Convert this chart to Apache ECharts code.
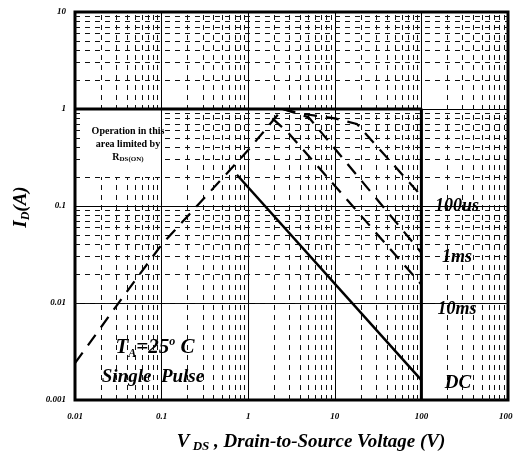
<!DOCTYPE html>
<html><head><meta charset="utf-8">
<script src="https://cdn.jsdelivr.net/npm/echarts@6/dist/echarts.min.js"></script>
<style>html,body{margin:0;padding:0;background:#fff}#c{width:513px;height:459px}</style>
</head><body><div id="c"></div>
<script>
// ---- data ----
const xTickLabels = ['0.01', '0.1', '1', '10', '100', '1000'];
const yTickLabels = ['0.001', '0.01', '0.1', '1', '10'];
const minorMultipliers = [2, 3, 4, 5, 6, 7, 8, 9];
const xDecades = [0.01, 0.1, 1, 10, 100];
const yDecades = [0.001, 0.01, 0.1, 1];

// RDS(on) limit (dashed)
const rdsV = [0.01, 0.03, 0.1, 1, 2.5];
const rdsI = [0.0024, 0.0093, 0.04, 0.377, 1.0];
// DC (solid)
const dcV = [0.74, 100];
const dcI = [0.21, 0.0016];
// 100us (dashed)
const us100V = [2.5, 4, 10, 18, 100];
const us100I = [1.0, 0.9, 0.8, 0.7, 0.127];
// 1ms (dashed)
const ms1V = [2.5, 5, 100];
const ms1I = [1.0, 0.82, 0.033];
// 10ms (dashed)
const ms10V = [1.9, 2.9, 100];
const ms10I = [0.8, 0.57, 0.0155];
// current / voltage limit (thick solid)
const limitV = [0.01, 100, 100];
const limitI = [1, 1, 0.001];

// ---- build ----
function pairs(xs, ys) { return xs.map((x, i) => [x, ys[i]]); }
function minorValues(decades) {
  const out = [];
  decades.forEach(d => minorMultipliers.forEach(m => out.push(Number((d * m).toPrecision(3)))));
  return out;
}
const xMinor = minorValues(xDecades);
const yMinor = minorValues(yDecades);

const SERIF = '"Liberation Serif", "Times New Roman", serif';
const gridDash = [5, 5];

function tickFormatter(labels, minExp) {
  return function (v) {
    const e = Math.round(Math.log10(v));
    return labels[e - minExp] || '';
  };
}

const chart = echarts.init(document.getElementById('c'), null, { renderer: 'canvas' });

const dashStyle = { color: '#000', width: 2.2, type: [13, 9] };
const center = { align: 'center', verticalAlign: 'middle', textAlign: 'center', textVerticalAlign: 'middle' };

chart.setOption({
  animation: false,
  backgroundColor: '#fff',
  grid: {
    left: 75, right: 5, top: 12, bottom: 59, outerBoundsMode: 'none', containLabel: false,
    show: true, borderColor: '#000', borderWidth: 3, backgroundColor: 'transparent'
  },
  xAxis: {
    type: 'log', logBase: 10, min: 0.01, max: 1000,
    axisLine: { show: false },
    axisTick: { show: false },
    splitLine: { show: true, lineStyle: { color: '#000', width: 1 } },
    axisLabel: {
      margin: 12, fontSize: 9, fontWeight: 'bold', fontStyle: 'italic', fontFamily: SERIF, color: '#000',
      formatter: tickFormatter(xTickLabels, -2), showMinLabel: true, showMaxLabel: true
    }
  },
  yAxis: {
    type: 'log', logBase: 10, min: 0.001, max: 10,
    axisLine: { show: false },
    axisTick: { show: false },
    splitLine: { show: true, lineStyle: { color: '#000', width: 1 } },
    axisLabel: {
      margin: 9, fontSize: 9, fontWeight: 'bold', fontStyle: 'italic', fontFamily: SERIF, color: '#000',
      formatter: tickFormatter(yTickLabels, -3), showMinLabel: true, showMaxLabel: true
    }
  },
  series: [
    {
      name: 'minorGrid', type: 'line', z: 1, data: [], silent: true,
      markLine: {
        z: 1, silent: true, symbol: 'none', animation: false,
        label: { show: false },
        lineStyle: { color: '#111', width: 1, type: gridDash },
        data: xMinor.map(v => ({ xAxis: v })).concat(yMinor.map(v => ({ yAxis: v })))
      }
    },
    { name: 'limit', type: 'line', z: 3, data: pairs(limitV, limitI), symbol: 'none', lineStyle: { color: '#000', width: 3 } },
    { name: 'RDS(on)', type: 'line', z: 3, data: pairs(rdsV, rdsI), symbol: 'none', lineStyle: dashStyle },
    { name: 'DC', type: 'line', z: 3, data: pairs(dcV, dcI), symbol: 'none', lineStyle: { color: '#000', width: 2.5 } },
    { name: '100us', type: 'line', z: 3, data: pairs(us100V, us100I), symbol: 'none', lineStyle: dashStyle },
    { name: '1ms', type: 'line', z: 3, data: pairs(ms1V, ms1I), symbol: 'none', lineStyle: dashStyle },
    { name: '10ms', type: 'line', z: 3, data: pairs(ms10V, ms10I), symbol: 'none', lineStyle: dashStyle }
  ],
  graphic: [
    { type: 'rect', z: 2, shape: { x: 81, y: 112, width: 79, height: 65 }, style: { fill: '#fff' } },
    { type: 'text', z: 5, x: 128, y: 131, style: Object.assign({ text: 'Operation in this', font: 'bold 10px ' + SERIF, fill: '#000' }, center) },
    { type: 'text', z: 5, x: 128, y: 144, style: Object.assign({ text: 'area limited by', font: 'bold 10px ' + SERIF, fill: '#000' }, center) },
    {
      type: 'text', z: 5, x: 128, y: 157,
      style: Object.assign({
        text: '{m|R}{s|DS(ON)}',
        rich: {
          m: { font: 'bold 10px ' + SERIF, fill: '#000', lineHeight: 12, verticalAlign: 'middle' },
          s: { font: 'bold 7px ' + SERIF, fill: '#000', lineHeight: 7, verticalAlign: 'bottom' }
        }
      }, center)
    },
    {
      type: 'text', z: 5, x: 155, y: 348,
      style: Object.assign({
        text: '{m|T}{s|A}{m|=25}{p|o}{m| C}',
        rich: {
          m: { font: 'italic bold 21px ' + SERIF, fill: '#000', lineHeight: 24, verticalAlign: 'middle' },
          s: { font: 'italic bold 12px ' + SERIF, fill: '#000', lineHeight: 12, verticalAlign: 'bottom' },
          p: { font: 'italic bold 12px ' + SERIF, fill: '#000', lineHeight: 12, verticalAlign: 'top' }
        }
      }, center)
    },
    { type: 'text', z: 5, x: 153, y: 377, style: Object.assign({ text: 'Single  Pulse', font: 'italic bold 19px ' + SERIF, fill: '#000' }, center) },
    { type: 'text', z: 5, x: 457, y: 206, style: Object.assign({ text: '100us', font: 'italic bold 18px ' + SERIF, fill: '#000' }, center) },
    { type: 'text', z: 5, x: 457, y: 257, style: Object.assign({ text: '1ms', font: 'italic bold 18px ' + SERIF, fill: '#000' }, center) },
    { type: 'text', z: 5, x: 457, y: 309, style: Object.assign({ text: '10ms', font: 'italic bold 18px ' + SERIF, fill: '#000' }, center) },
    { type: 'text', z: 5, x: 458, y: 383, style: Object.assign({ text: 'DC', font: 'italic bold 19px ' + SERIF, fill: '#000' }, center) },
    {
      type: 'text', z: 5, x: 311, y: 442,
      style: Object.assign({
        text: '{m|V}{s| DS}{m| , Drain-to-Source Voltage (V)}',
        rich: {
          m: { font: 'italic bold 19px ' + SERIF, fill: '#000', lineHeight: 22, verticalAlign: 'middle' },
          s: { font: 'italic bold 13px ' + SERIF, fill: '#000', lineHeight: 12, verticalAlign: 'bottom' }
        }
      }, center)
    },
    {
      type: 'text', z: 5, x: 21, y: 207, rotation: Math.PI / 2,
      style: Object.assign({
        text: '{m|I}{s|D}{m|(A)}',
        rich: {
          m: { font: 'italic bold 19px ' + SERIF, fill: '#000', lineHeight: 22, verticalAlign: 'middle' },
          s: { font: 'italic bold 12px ' + SERIF, fill: '#000', lineHeight: 12, verticalAlign: 'bottom' }
        }
      }, center)
    }
  ]
});
</script>
</body></html>
